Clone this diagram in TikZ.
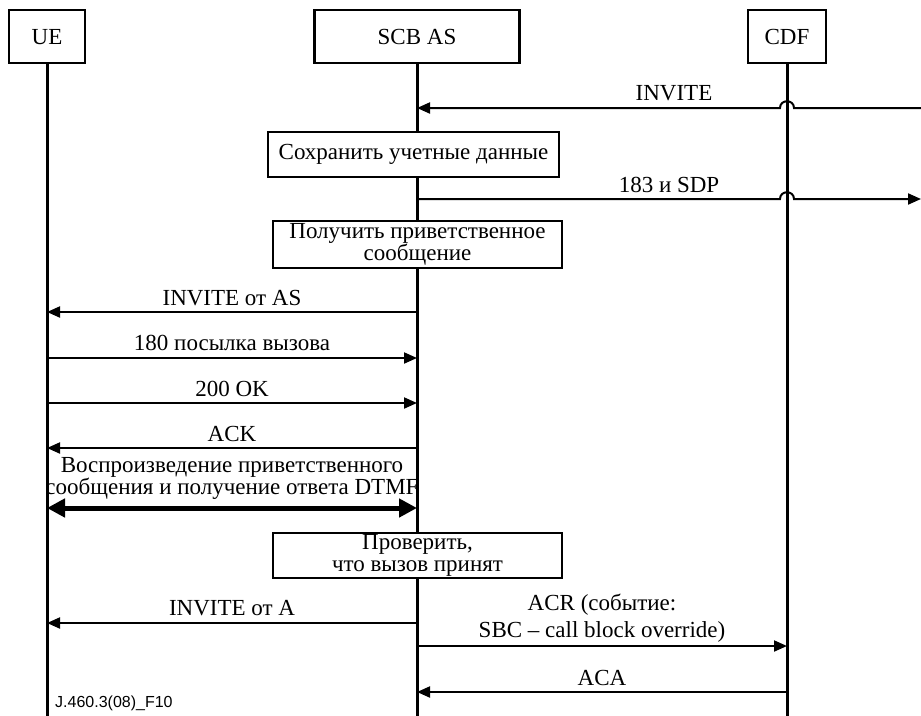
\documentclass[tikz,border=0pt]{standalone}
\usepackage{fontspec}
\setmainfont{Liberation Serif}
\newfontfamily\figsans{Liberation Sans}
\usetikzlibrary{arrows.meta,calc}
\begin{document}
\begin{tikzpicture}[x=1pt,y=-1pt,
  every node/.style={font=\fontsize{23}{22.5}\selectfont},
  hdr/.style={draw,line width=2.4pt,fill=white,inner sep=0,minimum height=53pt,text height=16pt,text depth=0pt},
  actbox/.style={draw,line width=2.4pt,fill=white,inner sep=0,align=center},
  life/.style={line width=3pt},
  msg/.style={line width=2pt,-{Triangle[length=13pt,width=11pt]}},
  bidir/.style={line width=5pt,{Triangle[length=18pt,width=18pt]}-{Triangle[length=18pt,width=18pt]}},
  lbl/.style={anchor=base,inner sep=0}]
\useasboundingbox (0,0) rectangle (921,715);
% headers
\node[hdr,minimum width=76pt] (ue) at (47,36.5) {UE};
\node[hdr,minimum width=205pt] (scb) at (417,36.5) {SCB AS};
\node[hdr,minimum width=78pt] (cdf) at (787,36.5) {CDF};
\coordinate (bottom) at (0,717);
\coordinate (redge) at (921,0);
% lifelines
\draw[life] (ue.south) -- (ue.south |- bottom);
\draw[life] (scb.south) -- (scb.south |- bottom);
\draw[life] (cdf.south) -- (cdf.south |- bottom);
% message rows
\coordinate (y1) at (0,108);
\coordinate (y2) at (0,199);
\coordinate (y3) at (0,312);
\coordinate (y4) at (0,358);
\coordinate (y5) at (0,403);
\coordinate (y6) at (0,448);
\coordinate (y7) at (0,508);
\coordinate (y8) at (0,623);
\coordinate (y9) at (0,646);
\coordinate (y10) at (0,692);
% INVITE with hop
\draw[msg] (redge |- y1) -- ($(cdf |- y1)+(7,0)$)
  .. controls ($(cdf |- y1)+(7,-9)$) and ($(cdf |- y1)+(-7,-9)$) .. ($(cdf |- y1)+(-7,0)$)
  -- (scb |- y1);
\node[lbl] at (674,100) {INVITE};
\node[actbox,minimum width=291pt,minimum height=45pt] (b1) at (413.5,154.5) {Сохранить учетные данные};
% 183 with hop
\draw[msg] (scb |- y2) -- ($(cdf |- y2)+(-7,0)$)
  .. controls ($(cdf |- y2)+(-7,-9)$) and ($(cdf |- y2)+(7,-9)$) .. ($(cdf |- y2)+(7,0)$)
  -- (redge |- y2);
\node[lbl] at (669,192) {183 и SDP};
\node[actbox,minimum width=289pt,minimum height=47pt] (b2) at (417.5,244.5) {Получить приветственное\\сообщение};
\draw[msg] (scb |- y3) -- (ue |- y3);
\node[lbl] at (232,305) {INVITE от AS};
\draw[msg] (ue |- y4) -- (scb |- y4);
\node[lbl] at (232,350) {180 посылка вызова};
\draw[msg] (ue |- y5) -- (scb |- y5);
\node[lbl] at (232,396) {200 OK};
\draw[msg] (scb |- y6) -- (ue |- y6);
\node[lbl] at (232,441) {ACK};
\draw[bidir] (ue |- y7) -- (scb |- y7);
\node[lbl] at (232,472) {Воспроизведение приветственного};
\node[lbl] at (232,494.5) {сообщения и получение ответа DTMF};
\node[actbox,minimum width=289pt,minimum height=45pt] (b3) at (417.5,555.5) {Проверить,\\что вызов принят};
\draw[msg] (scb |- y8) -- (ue |- y8);
\node[lbl] at (232,615) {INVITE от A};
\draw[msg] (scb |- y9) -- (cdf |- y9);
\node[lbl] at (602,610) {ACR (событие:};
\node[lbl] at (602,637) {SBC – call block override)};
\draw[msg] (cdf |- y10) -- (scb |- y10);
\node[lbl] at (602,685) {ACA};
\node[anchor=base west,inner sep=0,font=\figsans\fontsize{16}{18}\selectfont] at (55,707) {J.460.3(08)\_F10};
\end{tikzpicture}
\end{document}
